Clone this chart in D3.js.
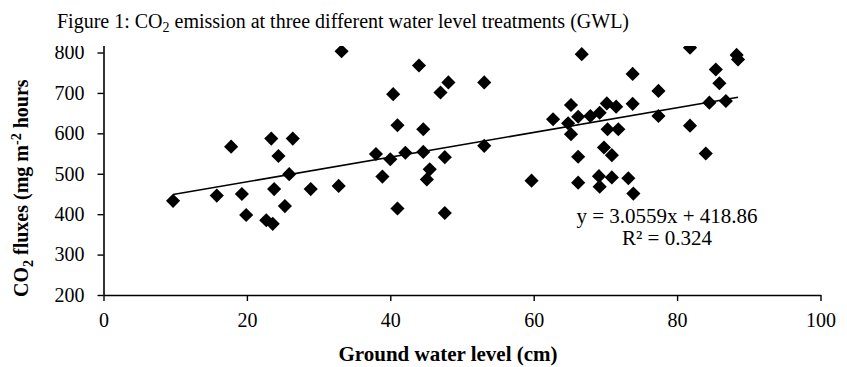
<!DOCTYPE html>
<html>
<head>
<meta charset="utf-8">
<script src="https://cdn.jsdelivr.net/npm/d3@7"></script>
<style>
  body { margin: 0; background: #fff; }
  svg { display: block; }
  text { font-family: "Liberation Serif", "Times New Roman", serif; fill: #000; }
</style>
</head>
<body>
<svg id="chart" width="847" height="367"></svg>
<script>
// ground water level (cm) and CO2 flux (mg m-2 hour)
var gwl = [9.7, 15.8, 17.8, 19.3, 19.9, 23.4, 24.4, 25.9, 26.4, 23.8, 25.3, 22.7, 23.6, 28.9, 32.8, 33.2,
  38.0, 38.9, 40.0, 40.4, 41.0, 42.1, 41.0, 44.0, 44.6, 44.6, 45.5, 45.1, 47.0, 48.1, 47.6, 47.6, 53.1, 53.1,
  59.7, 66.7, 62.7, 65.2, 64.8, 65.2, 66.2, 67.9, 69.2, 70.2, 71.5, 70.3, 71.8, 66.2, 69.8, 70.9, 66.2, 69.1,
  69.2, 70.9, 73.2, 73.9, 73.8, 73.8, 77.4, 77.4, 81.8, 81.8, 84.0, 84.5, 85.4, 85.9, 86.8, 88.3, 88.5];
var co2 = [433, 446, 567, 450, 398, 587, 544, 499, 587, 462, 420, 385, 376, 462, 470, 803,
  549, 493, 536, 697, 620, 552, 414, 768, 610, 554, 511, 486, 701, 726, 541, 403, 726, 569,
  483, 796, 635, 670, 625, 598, 641, 643, 651, 674, 666, 610, 610, 542, 565, 546, 478, 494,
  468, 491, 489, 451, 747, 673, 705, 643, 812, 619, 550, 676, 758, 724, 680, 794, 783];

var xTicks = [0, 20, 40, 60, 80, 100];
var yTicks = [200, 300, 400, 500, 600, 700, 800];

// trendline given on the chart
var slope = 3.0559;
var intercept = 418.86;
var eqText = "y = 3.0559x + 418.86";
var r2Text = "R\u00b2 = 0.324";

var svg = d3.select("#chart");
svg.append("rect").attr("width", 847).attr("height", 367).attr("fill", "#fff");

// the figure is cropped at the top (y axis ran to 900)
svg.append("clipPath").attr("id", "crop")
  .append("rect").attr("x", 0).attr("y", 46).attr("width", 847).attr("height", 321);

var xScale = d3.scaleLinear().domain([0, 100]).range([103.5, 820.5]);
var yScale = d3.scaleLinear().domain([200, 900]).range([295, 12.1]);

var g = svg.append("g").attr("clip-path", "url(#crop)");

// x axis
var xAxis = g.append("g")
  .attr("transform", "translate(0," + yScale(200) + ")")
  .call(d3.axisBottom(xScale).tickValues(xTicks).tickSize(6).tickPadding(12).tickSizeOuter(0));
xAxis.selectAll("text").style("font-size", "20px").attr("font-family", null);

// y axis
var yAxis = g.append("g")
  .attr("transform", "translate(" + xScale(0) + ",0)")
  .call(d3.axisLeft(yScale).tickValues(yTicks).tickSize(6).tickPadding(13).tickSizeOuter(0));
yAxis.selectAll("text").style("font-size", "20px").attr("font-family", null);

g.selectAll(".domain").attr("stroke", "#000").attr("stroke-width", 1.6);
g.selectAll(".tick line").attr("stroke", "#000").attr("stroke-width", 1.4);

// points
var diamond = d3.symbol().type(d3.symbolSquare).size(100);
g.selectAll(".pt")
  .data(gwl.map(function (v, i) { return { x: v, y: co2[i] }; }))
  .enter().append("path")
  .attr("class", "pt")
  .attr("d", diamond)
  .attr("fill", "#000")
  .attr("transform", function (d) { return "translate(" + xScale(d.x) + "," + yScale(d.y) + ") rotate(45)"; });

// linear trendline
var xMin = d3.min(gwl), xMax = d3.max(gwl);
var line = d3.line()
  .x(function (d) { return xScale(d); })
  .y(function (d) { return yScale(slope * d + intercept); });
g.append("path")
  .datum([xMin, xMax])
  .attr("d", line)
  .attr("fill", "none")
  .attr("stroke", "#000")
  .attr("stroke-width", 1.6);

g.append("text").attr("x", 667).attr("y", 223).attr("text-anchor", "middle")
  .style("font-size", "21px").text(eqText);
g.append("text").attr("x", 667).attr("y", 245).attr("text-anchor", "middle")
  .style("font-size", "21px").text(r2Text);

// axis titles
g.append("text").attr("x", 448).attr("y", 361).attr("text-anchor", "middle")
  .style("font-size", "21px").style("font-weight", "bold").text("Ground water level (cm)");

var yl = g.append("text")
  .attr("transform", "translate(28,297) rotate(-90)")
  .attr("text-anchor", "start")
  .style("font-size", "20px").style("font-weight", "bold");
yl.append("tspan").text("CO");
yl.append("tspan").attr("dy", 5).style("font-size", "14px").text("2");
yl.append("tspan").attr("dy", -5).text(" fluxes (mg m");
yl.append("tspan").attr("dy", -7).style("font-size", "14px").text("-2");
yl.append("tspan").attr("dy", 7).text(" hours");

// caption above the cropped figure
var title = svg.append("text").attr("x", 57).attr("y", 28).style("font-size", "20px");
title.append("tspan").text("Figure 1: CO");
title.append("tspan").attr("dy", 4).style("font-size", "14px").text("2");
title.append("tspan").attr("dy", -4).text(" emission at three different water level treatments (GWL)");
</script>
</body>
</html>
